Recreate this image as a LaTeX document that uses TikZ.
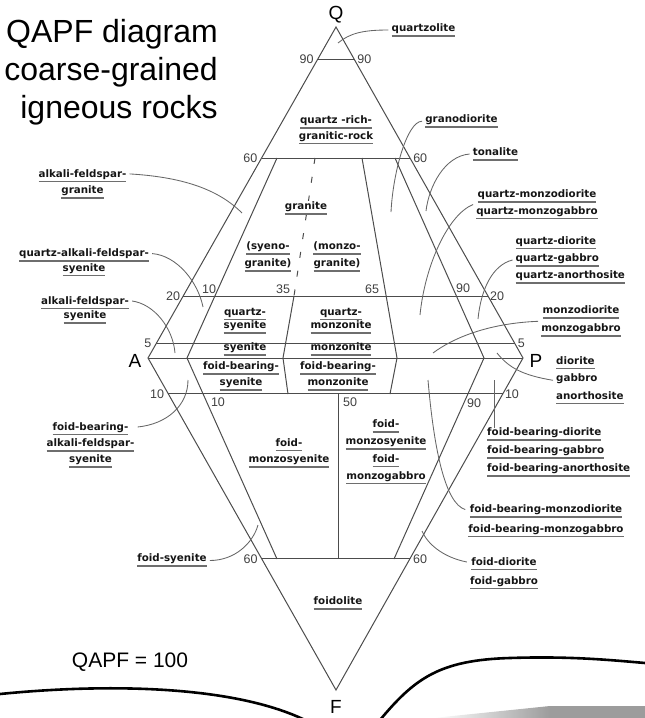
\documentclass[tikz,border=0pt]{standalone}
\usepackage{fontspec}
\usepackage{xcolor}
\usetikzlibrary{calc,positioning}
\setmainfont{Liberation Sans}
\newfontfamily\lblfont{DejaVu Sans}
\definecolor{edgeGray}{HTML}{4C4C4C}
\definecolor{leadGray}{HTML}{666666}
\definecolor{ruleGray}{HTML}{6E6E6E}
\definecolor{ink}{HTML}{151515}
\definecolor{numGray}{HTML}{404040}
\definecolor{pageGray}{HTML}{9C9C9C}
\newsavebox{\lblbox}
\newcommand{\ulin}[1]{\sbox{\lblbox}{#1}\rlap{\color{ruleGray}\rule[-5.2pt]{\wd\lblbox}{1.7pt}}\rule{0pt}{8pt}\usebox{\lblbox}}
\newcommand{\noul}[1]{\sbox{\lblbox}{#1}\rule[-5.2pt]{0pt}{13.2pt}\usebox{\lblbox}}
\newcommand{\lblsize}[1]{\lblfont\bfseries\fontsize{10.3}{#1}\selectfont\lineskiplimit=-20pt}

\begin{document}
\begin{tikzpicture}[
  x=1pt, y=-1pt,
  edge/.style={draw=edgeGray, line width=1pt},
  leader/.style={draw=leadGray, line width=0.85pt},
  lbl/.style={inner xsep=3pt, inner ysep=0pt, text=ink, align=center, font=\lblsize{#1}},
  lbl/.default=15,
  lbll/.style={lbl=#1, align=left, anchor=west},
  lbll/.default=17.5,
  num/.style={inner sep=0pt, text=numGray, font=\fontsize{12.5}{14}\selectfont},
  apex/.style={inner sep=0pt, font=\fontsize{19}{22}\selectfont},
  page/.style={line width=2.6pt, line cap=round}
]
\useasboundingbox (0,0) rectangle (645,718);

\coordinate (Q) at (336,27);
\coordinate (A) at (148,358);
\coordinate (P) at (523,358);
\coordinate (F) at (336,690);

\draw[edge] (Q) -- (A) -- (F) -- (P) -- cycle;
\draw[edge] (A) -- (P);
\draw[edge] ($(A)!.903!(Q)$) coordinate (q90l) -- ($(P)!.903!(Q)$) coordinate (q90r);
\draw[edge] ($(A)!.604!(Q)$) coordinate (q60l) -- ($(P)!.604!(Q)$) coordinate (q60r);
\draw[edge] ($(A)!.187!(Q)$) coordinate (q20l) -- ($(P)!.187!(Q)$) coordinate (q20r);
\draw[edge] ($(A)!.045!(Q)$) coordinate (q5l) -- ($(P)!.045!(Q)$) coordinate (q5r);
\draw[edge] ($(A)!.108!(F)$) coordinate (f10l) -- ($(P)!.108!(F)$) coordinate (f10r);
\draw[edge] ($(A)!.605!(F)$) coordinate (f60l) -- ($(P)!.605!(F)$) coordinate (f60r);

\coordinate (a10) at (187,358);
\coordinate (a35) at (283,358);
\coordinate (a65) at (397,358);
\coordinate (a90) at (484,358);
\draw[edge] (277,158) -- (a10) -- (277,559);
\draw[edge] (395,158) -- (a90) -- (394,559);
\draw[edge, dash pattern=on 6pt off 13pt] (315,158) -- (294,296);
\draw[edge] (294,296) -- (a35) -- (288,394);
\draw[edge] (362,158) -- (a65) -- (390,394);
\draw[edge] (338,394) -- (338,559);

\node[num, left=4pt of q90l] (n90l) {90};
\node[num, right=3pt of q90r] (n90r) {90};
\node[num, left=4pt of q60l] (n60l) {60};
\node[num, right=3pt of q60r] (n60r) {60};
\node[num, left=3pt of q20l] (n20l) {20};
\node[num, right=2pt of q20r] (n20r) {20};
\node[num, left=5pt of q5l] (n5l) {5};
\node[num, right=3pt of q5r] (n5r) {5};
\node[num, left=4pt of f10l] (n10l) {10};
\node[num, right=2pt of f10r] (n10r) {10};
\node[num, left=4pt of f60l] (f60lbl) {60};
\node[num, right=3pt of f60r] (f60rbl) {60};
\node[num] (r10) at (209,289) {10};
\node[num] (r35) at (283,289) {35};
\node[num] (r65) at (372,289) {65};
\node[num] (r90) at (463,288) {90};
\node[num] (s10) at (218,402) {10};
\node[num] (s50) at (350,402) {50};
\node[num] (s90) at (474,403) {90};

\node[apex] (Qlbl) at (336,15) {Q};
\node[apex] (Albl) at (135,361) {A};
\node[apex] (Plbl) at (536,361) {P};
\node[apex] (Flbl) at (336,707) {F};

\node[inner sep=0pt, anchor=east, align=right, font=\fontsize{32}{37.8}\selectfont] (title) at (218,72) {QAPF diagram\\coarse-grained\\igneous rocks};
\node[inner sep=0pt, font=\fontsize{21}{25}\selectfont] (total) at (130,662.5) {QAPF = 100};

\node[lbl=15.6] (qrich) at (336,130) {\ulin{quartz -rich-}\\\ulin{granitic-rock}};
\node[lbl, fill=white] (granite) at (306,208) {\ulin{granite}};
\node[lbl=17] (syenogr) at (268,257) {\ulin{(syeno-}\\\ulin{granite)}};
\node[lbl=17] (monzogr) at (337,257) {\ulin{(monzo-}\\\ulin{granite)}};
\node[lbl=13.4] (qsyenite) at (245,320.5) {\ulin{quartz-}\\\ulin{syenite}};
\node[lbl=13.4] (qmonzonite) at (341,320.5) {\ulin{quartz-}\\\ulin{monzonite}};
\node[lbl] (syenite) at (245,349.5) {\ulin{syenite}};
\node[lbl] (monzonite) at (341,349.5) {\ulin{monzonite}};
\node[lbl=16] (fbsyenite) at (241,376) {\ulin{foid-bearing-}\\\ulin{syenite}};
\node[lbl=16] (fbmonzonite) at (338,376) {\ulin{foid-bearing-}\\\ulin{monzonite}};
\node[lbl=16.7] (fmzsyenite) at (289,453) {\ulin{foid-}\\\ulin{monzosyenite}};
\node[lbl=17.2] (fmzgabbro) at (386,452) {\ulin{foid-}\\\ulin{monzosyenite}\\\ulin{foid-}\\\ulin{monzogabbro}};
\node[lbl] (foidolite) at (338,603) {\ulin{foidolite}};

\node[lbl] (quartzolite) at (423.5,30) {\ulin{quartzolite}};
\node[lbl=16.6] (afgranite) at (82.5,184) {\ulin{alkali-feldspar-}\\\ulin{granite}};
\node[lbl=14.3] (qafsyenite) at (84,262.5) {\ulin{quartz-alkali-feldspar-}\\\ulin{syenite}};
\node[lbl=14.4] (afsyenite) at (85,310) {\ulin{alkali-feldspar-}\\\ulin{syenite}};
\node[lbl=16.2] (fbafsyenite) at (90.5,445) {\ulin{foid-bearing-}\\\ulin{alkali-feldspar-}\\\ulin{syenite}};
\node[lbl] (fsyenite) at (172,560.5) {\ulin{foid-syenite}};
\node[lbl] (granodiorite) at (461.5,121.2) {\ulin{granodiorite}};
\node[lbl] (tonalite) at (495.5,154) {\ulin{tonalite}};
\node[lbl=16.6] (qmzdiorite) at (537,204.5) {\ulin{quartz-monzodiorite}\\\ulin{quartz-monzogabbro}};
\node[lbll=17.35] (qdiorite) at (512.5,260) {\ulin{quartz-diorite}\\\ulin{quartz-gabbro}\\\ulin{quartz-anorthosite}};
\node[lbl=18.5] (mzdiorite) at (581,321.3) {\ulin{monzodiorite}\\\ulin{monzogabbro}};
\node[lbll] (diorite) at (553,380.3) {\ulin{diorite}\\\noul{gabbro}\\\ulin{anorthosite}};
\node[lbll=18] (fbdiorite) at (484,452.5) {\ulin{foid-bearing-diorite}\\\ulin{foid-bearing-gabbro}\\\ulin{foid-bearing-anorthosite}};
\node[lbl=19.3] (fbmzdiorite) at (546,521) {\ulin{foid-bearing-monzodiorite}\\\ulin{foid-bearing-monzogabbro}};
\node[lbl=19] (fdiorite) at (504,573.3) {\ulin{foid-diorite}\\\ulin{foid-gabbro}};

\coordinate (pQz) at (338,43);
\coordinate (pAfg) at (242,213);
\coordinate (pQafs) at (203,307);
\coordinate (pAfs) at (175,353);
\coordinate (pFbafs) at (188,380);
\coordinate (pFs) at (258,525);
\coordinate (pGd) at (391,212);
\coordinate (pTon) at (426,211);
\coordinate (pQmd) at (420,315);
\coordinate (pQd) at (478,319);
\coordinate (pMd) at (433,353);
\coordinate (pDio) at (497,353);
\coordinate (pFbd) at (494,380);
\coordinate (pFbm) at (428,380);
\coordinate (pFd) at (422,531);

\draw[leader] (quartzolite.west) .. controls +(-25,0) and +(12,-10) .. (pQz);
\draw[leader] ([yshift=-5pt]afgranite.north east) .. controls +(50,3) and +(-25,-25) .. (pAfg);
\draw[leader] ([yshift=-5pt]qafsyenite.north east) .. controls +(25,2) and +(-5,-25) .. (pQafs);
\draw[leader] ([yshift=-5pt]afsyenite.north east) .. controls +(22,3) and +(-2,-25) .. (pAfs);
\draw[leader] ([yshift=-5pt]fbafsyenite.north east) .. controls +(30,-3) and +(0,25) .. (pFbafs);
\draw[leader] (fsyenite.east) .. controls +(25,0) and +(-5,18) .. (pFs);
\draw[leader] (granodiorite.west) .. controls +(-15,0) and +(2,-40) .. (pGd);
\draw[leader] (tonalite.west) .. controls +(-25,2) and +(3,-25) .. (pTon);
\draw[leader] (qmzdiorite.west) .. controls +(-25,10) and +(5,-50) .. (pQmd);
\draw[leader] (qdiorite.west) .. controls +(-20,5) and +(3,-30) .. (pQd);
\draw[leader] (mzdiorite.west) .. controls +(-50,2) and +(20,-15) .. (pMd);
\draw[leader] (diorite.west) .. controls +(-30,-5) and +(12,15) .. (pDio);
\draw[leader] ([xshift=10pt]fbdiorite.north west) -- (pFbd);
\draw[leader] ([yshift=-5pt]fbmzdiorite.north west) .. controls +(-20,-6) and +(6,70) .. (pFbm);
\draw[leader] ([yshift=-5pt]fdiorite.north west) .. controls +(-25,-5) and +(5,12) .. (pFd);

\shade[left color=white, right color=pageGray] (433,718) -- (550,706) -- (550,718) -- cycle;
\fill[pageGray] (550,706) rectangle (645,718);
\draw[page] (0,694) .. controls (100,684) and (230,684) .. (305,720);
\draw[page] (380,720) .. controls (415,678) and (440,660) .. (510,658) .. controls (570,656) and (610,660) .. (645,663);
\end{tikzpicture}
\end{document}
